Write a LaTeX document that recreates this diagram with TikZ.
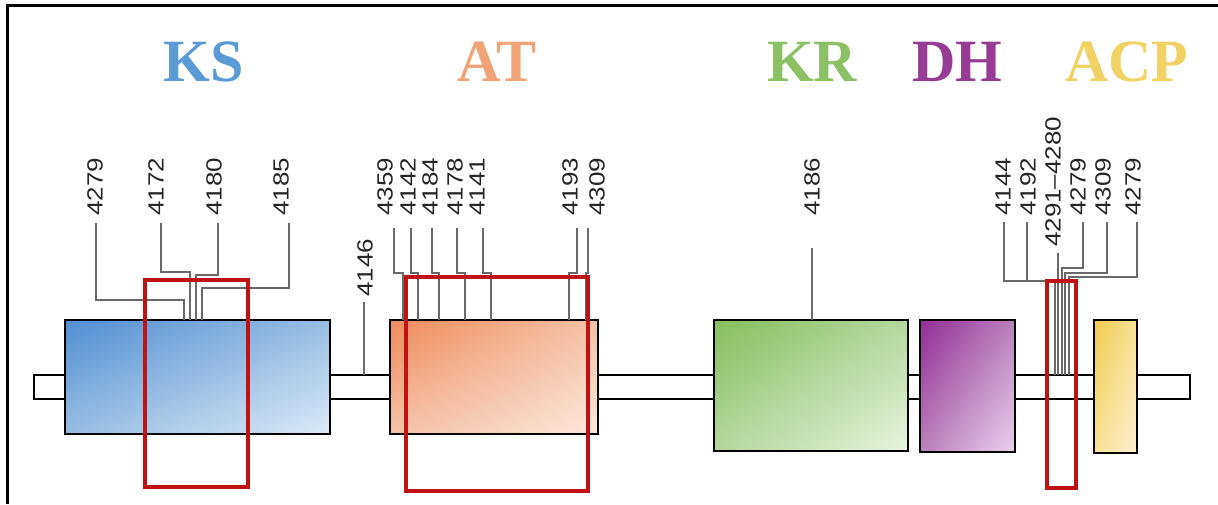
\documentclass[tikz,border=0pt]{standalone}
\usepackage{fontspec}
\usetikzlibrary{shadings}
\setmainfont{Liberation Serif}
\newfontfamily\numfont[FakeStretch=1.18]{Liberation Sans}
\newfontfamily\titlefont{Liberation Serif}
\definecolor{ksc}{RGB}{91,155,213}
\definecolor{ksd}{RGB}{82,142,210}
\definecolor{ksl}{RGB}{222,233,246}
\definecolor{atc}{RGB}{241,163,120}
\definecolor{atd}{RGB}{238,140,92}
\definecolor{atl}{RGB}{252,232,222}
\definecolor{krc}{RGB}{140,192,100}
\definecolor{krd}{RGB}{135,190,95}
\definecolor{krl}{RGB}{232,243,225}
\definecolor{dhc}{RGB}{150,60,150}
\definecolor{dhd}{RGB}{145,45,150}
\definecolor{dhl}{RGB}{234,210,236}
\definecolor{acc}{RGB}{242,210,100}
\definecolor{acd}{RGB}{244,204,78}
\definecolor{acl}{RGB}{253,240,210}
\definecolor{hl}{RGB}{192,18,18}
\definecolor{leadc}{RGB}{105,105,105}
\begin{document}
\begin{tikzpicture}[x=1pt,y=-1pt,
  dombox/.style={draw=black, line width=2pt, inner sep=0pt},
  lab/.style={font=\numfont\fontsize{22}{22}\selectfont, rotate=90, anchor=west, inner sep=0pt, text=black!85},
  ttl/.style={font=\titlefont\bfseries\fontsize{60}{60}\selectfont, anchor=base, inner sep=0pt},
  lead/.style={draw=leadc, line width=1.1pt},
  hlbox/.style={draw=hl, line width=4.5pt}]
\useasboundingbox (0,0) rectangle (1218,504);
% frame (top and left edges visible)
\draw[line width=2.5pt] (7.5,504) -- (7.5,5.5) -- (1218,5.5);
% titles
\node[ttl, text=ksc] (tks) at (204,81) {KS};
\node[ttl, text=atc] (tat) at (497,81) {AT};
\node[ttl, text=krc] (tkr) at (812,81) {KR};
\node[ttl, text=dhc] (tdh) at (957,81) {DH};
\node[ttl, text=acc] (tacp) at (1127,81) {ACP};
% backbone
\node[draw=black, line width=2pt, fill=white, minimum width=1156pt, minimum height=24pt, inner sep=0pt] (bb) at (612,387) {};
% domains
\node[dombox, upper left=ksd, upper right=ksc!55!ksl, lower left=ksc!55!ksl, lower right=ksl, minimum width=265pt, minimum height=114pt] (ks) at (197.5,377) {};
\node[dombox, upper left=atd, upper right=atc!55!atl, lower left=atc!55!atl, lower right=atl, minimum width=208pt, minimum height=114pt] (at) at (494,377) {};
\node[dombox, upper left=krd, upper right=krc!55!krl, lower left=krc!55!krl, lower right=krl, minimum width=194pt, minimum height=131pt] (kr) at (811,385.5) {};
\node[dombox, upper left=dhd, upper right=dhc!55!dhl, lower left=dhc!55!dhl, lower right=dhl, minimum width=95pt, minimum height=132pt] (dh) at (967.5,386) {};
\node[dombox, upper left=acd, upper right=acc!55!acl, lower left=acc!55!acl, lower right=acl, minimum width=43pt, minimum height=133pt] (acp) at (1115.5,386.5) {};
% KS labels
\node[lab] (l4279) at (95,216) {4279};
\node[lab] (l4172) at (156,216) {4172};
\node[lab] (l4180) at (214,216) {4180};
\node[lab] (l4185) at (281,216) {4185};
\draw[lead] (l4279.west) ++(1,7) |- (184,300) -- (184,320);
\draw[lead] (l4172.west) ++(5,7) |- (190,272) -- (190,320);
\draw[lead] (l4180.west) ++(4,7) |- (196,275) -- (196,320);
\draw[lead] (l4185.west) ++(8,7) |- (202,288) -- (202,320);
% linker label
\node[lab] (l4146) at (365,297) {4146};
\draw[lead] (l4146.west) ++(-1,5) -- (364,375);
% AT labels
\node[lab] (l4359) at (385,216) {4359};
\node[lab] (l4142) at (408,216) {4142};
\node[lab] (l4184) at (430,216) {4184};
\node[lab] (l4178) at (455,216) {4178};
\node[lab] (l4141) at (477,216) {4141};
\node[lab] (l4193) at (570,216) {4193};
\node[lab] (l4309) at (597,216) {4309};
\draw[lead] (l4359.west) ++(9,12) |- (403,273) -- (403,320);
\draw[lead] (l4142.west) ++(3,12) |- (418,273) -- (418,320);
\draw[lead] (l4184.west) ++(2,12) |- (439,273) -- (439,320);
\draw[lead] (l4178.west) ++(2,12) |- (465,273) -- (465,320);
\draw[lead] (l4141.west) ++(6,12) |- (491,273) -- (491,320);
\draw[lead] (l4193.west) ++(7,12) |- (569,273) -- (569,320);
\draw[lead] (l4309.west) ++(-9,12) |- (586,273) -- (586,320);
% KR label
\node[lab] (l4186) at (812,216) {4186};
\draw[lead] (l4186.west) ++(0,32) -- (812,320);
% right group labels
\node[lab] (l4144) at (1003,216) {4144};
\node[lab] (l4192) at (1028,216) {4192};
\node[lab] (l4291) at (1053,247) {4291–4280};
\node[lab] (l4279b) at (1078,216) {4279};
\node[lab] (l4309b) at (1103,216) {4309};
\node[lab] (l4279c) at (1133,216) {4279};
\draw[lead] (l4144.west) ++(1,6) |- (1055,281) -- (1055,375);
\draw[lead] (l4192.west) ++(-1,6) -- (1027,281);
\draw[lead] (l4291.west) ++(5,6) -- (1058,375);
\draw[lead] (l4279b.west) ++(5,6) |- (1062,268) -- (1062,375);
\draw[lead] (l4309b.west) ++(4,6) |- (1065,273) -- (1065,375);
\draw[lead] (l4279c.west) ++(4,6) |- (1069,277) -- (1069,375);
% highlight boxes
\draw[hlbox] (145,280) rectangle (248,487);
\draw[hlbox] (406,277) rectangle (588,491);
\draw[hlbox] (1047,281) rectangle (1076,488);
\end{tikzpicture}
\end{document}
